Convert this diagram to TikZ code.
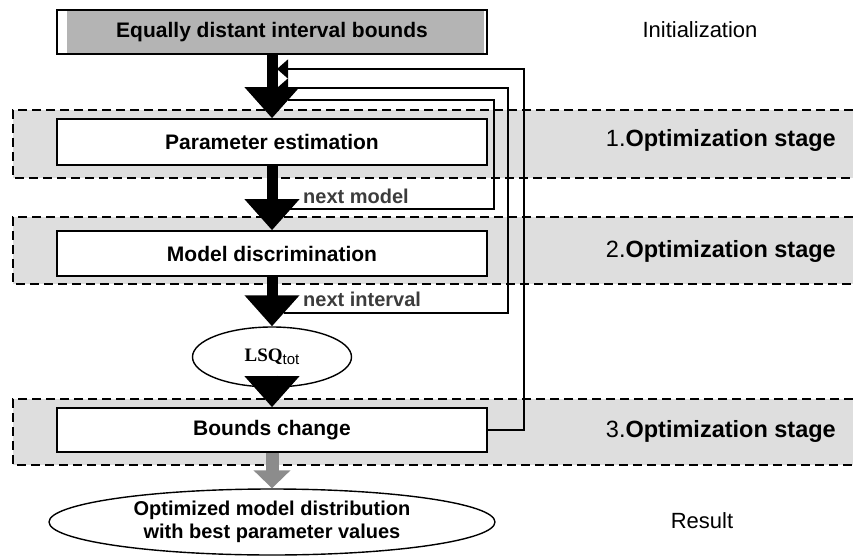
\documentclass[tikz,border=0pt]{standalone}
\usepackage{fontspec}
\setmainfont{Liberation Sans}
\newfontfamily\lsqfont{Liberation Serif}
\usetikzlibrary{arrows.meta,shapes.geometric}

\definecolor{bandgray}{RGB}{222,222,222}
\definecolor{topgray}{RGB}{180,180,180}
\definecolor{labelgray}{RGB}{60,60,60}

\tikzset{
  stageband/.style={fill=bandgray},
  stageedge/.style={draw, line width=1.4pt, dash pattern=on 9pt off 5pt},
  procbox/.style={draw, line width=1.6pt, fill=white, minimum width=430pt,
    minimum height=45pt, inner sep=0pt, font=\fontsize{21}{25}\selectfont\bfseries},
  topfill/.style={path picture={\fill[topgray]
    ([xshift=10pt,yshift=1pt]path picture bounding box.south west) rectangle
    ([xshift=-3pt,yshift=-1pt]path picture bounding box.north east);}},
  bigarrow/.style={line width=11pt, -{Triangle[length=31pt,width=53pt]}},
  resarrow/.style={line width=13pt, black!45, -{Triangle[length=18pt,width=36pt]}},
  fbline/.style={line width=1.4pt},
  fbarrow/.style={fbline, -{Triangle[length=11pt,width=19pt]}},
  fblabel/.style={anchor=west, inner sep=0pt, text=labelgray,
    font=\fontsize{20}{24}\selectfont\bfseries},
  stagelabel/.style={anchor=east, inner sep=0pt, font=\fontsize{23.5}{28}\selectfont},
  sidelabel/.style={inner sep=0pt, font=\fontsize{22}{26}\selectfont}
}

\begin{document}
\begin{tikzpicture}[x=1pt, y=-1pt]
  \useasboundingbox (0,0) rectangle (853,559);

  % Optimization stages
  \foreach \top/\bot in {110/178, 217/284, 399/465} {
    \fill[stageband] (13,\top) rectangle (853,\bot);
    \draw[stageedge] (853,\top) -- (13,\top) -- (13,\bot) -- (853,\bot);
  }

  % Boxes
  \node[procbox, topfill, minimum height=44pt] (init) at (272,32) {Equally distant interval bounds};
  \node[procbox, minimum height=46pt] (pe) at (272,142) {Parameter estimation};
  \node[procbox] (md) at (272,253.5) {Model discrimination};
  \node[draw, line width=1.4pt, fill=white, ellipse, minimum width=159pt, minimum height=60pt,
    inner sep=0pt] (lsq) at (272,357)
    {\lsqfont\fontsize{19}{22}\selectfont\bfseries LSQ\raisebox{-3pt}{\fontsize{15}{18}\selectfont\mdseries\rmfamily tot}};
  \node[procbox, minimum height=44pt] (bc) at (272,430) {Bounds change};
  \node[draw, line width=1.4pt, fill=white, ellipse, minimum width=446pt, minimum height=66pt,
    inner sep=0pt, align=center, font=\fontsize{20}{23}\selectfont\bfseries] (res) at (272,522)
    {Optimized model distribution\\with best parameter values};

  % Main flow
  \draw[bigarrow] (init.south) -- (pe.north);
  \draw[bigarrow] (pe.south) -- (md.north);
  \draw[bigarrow] (md.south) -- (lsq.north);
  \draw[bigarrow] ([yshift=12pt]lsq.south) -- (bc.north);
  \draw[resarrow] (bc.south) -- (res.north);

  % Feedback loops
  \coordinate (in1) at (277,69);
  \coordinate (in2) at (277,88);
  \coordinate (in3) at (288,100);
  \coordinate (out1) at (290,209);
  \coordinate (out2) at (284,313);
  \draw[fbarrow] (bc.east) -- ++(36,0) |- (in1);
  \draw[fbarrow] (out2) -- ++(224,0) |- (in2);
  \draw[fbline] (out1) -- ++(204,0) |- (in3);
  \node[fblabel] (nm) at (303,196) {next model};
  \node[fblabel] (ni) at (303,299) {next interval};

  % Side labels
  \node[sidelabel] (ini) at (700,30) {Initialization};
  \node[stagelabel] (st1) at (836,140) {1.\textbf{Optimization stage}};
  \node[stagelabel] (st2) at (836,251) {2.\textbf{Optimization stage}};
  \node[stagelabel] (st3) at (836,431) {3.\textbf{Optimization stage}};
  \node[sidelabel] (rs) at (702,521) {Result};
\end{tikzpicture}
\end{document}
